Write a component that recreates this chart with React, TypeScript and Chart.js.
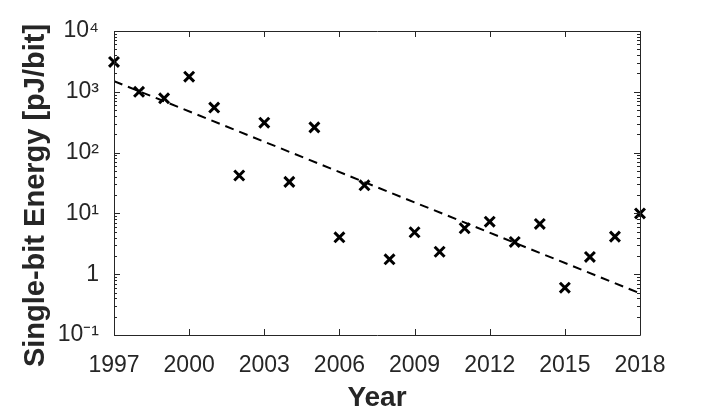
import React, { useEffect, useRef } from "react";
import { Chart, registerables } from "chart.js";

Chart.register(...registerables);

const years = [1997, 1998, 1999, 2000, 2001, 2002, 2003, 2004, 2005, 2006, 2007, 2008, 2009, 2010, 2011, 2012, 2013, 2014, 2015, 2016, 2017, 2018];
const energy = [3100, 1000, 780, 1770, 550, 42, 310, 33, 260, 4.05, 29, 1.76, 4.9, 2.34, 5.7, 7.3, 3.4, 6.7, 0.6, 1.92, 4.15, 10];
const trendYears = [1997, 2018];
const trendValues = [1500, 0.485];
const yTickValues = [0.1, 1, 10, 100, 1000, 10000];
const yTickLabels = ["10\u207B\u00B9", "1", "10\u00B9", "10\u00B2", "10\u00B3", "10\u2074"];
const xTickValues = [1997, 2000, 2003, 2006, 2009, 2012, 2015, 2018];
const xTitle = "Year";
const yTitle = "Single-bit Energy [pJ/bit]";

const AXIS_COLOR = "#262626";
const FONT = "'Liberation Sans', Arial, Helvetica, sans-serif";

const boxPlugin = {
  id: "matlabBox",
  afterDatasetsDraw(chart: any) {
    const { ctx, chartArea } = chart;
    const { left, right, top, bottom } = chartArea;
    const xs = chart.scales.x;
    const ys = chart.scales.y;
    ctx.save();
    ctx.strokeStyle = AXIS_COLOR;
    ctx.lineWidth = 1;
    ctx.beginPath();
    ctx.rect(Math.round(left) + 0.5, Math.round(top) + 0.5, Math.round(right - left), Math.round(bottom - top));
    ctx.stroke();
    ctx.beginPath();
    xTickValues.forEach((v) => {
      const px = Math.round(xs.getPixelForValue(v)) + 0.5;
      ctx.moveTo(px, bottom);
      ctx.lineTo(px, bottom - 6);
      ctx.moveTo(px, top);
      ctx.lineTo(px, top + 6);
    });
    yTickValues.forEach((v) => {
      const py = Math.round(ys.getPixelForValue(v)) + 0.5;
      ctx.moveTo(left, py);
      ctx.lineTo(left + 6, py);
      ctx.moveTo(right, py);
      ctx.lineTo(right - 6, py);
    });
    for (let d = -1; d <= 3; d++) {
      for (let k = 2; k <= 9; k++) {
        const v = k * Math.pow(10, d);
        const py = Math.round(ys.getPixelForValue(v)) + 0.5;
        ctx.moveTo(left, py);
        ctx.lineTo(left + 3, py);
        ctx.moveTo(right, py);
        ctx.lineTo(right - 3, py);
      }
    }
    ctx.stroke();

    // y-axis title (placed slightly below the plot centre, as in the reference)
    const cy = (top + bottom) / 2 + 12.5;
    ctx.translate(36, cy);
    ctx.rotate(-Math.PI / 2);
    ctx.fillStyle = AXIS_COLOR;
    ctx.font = `bold 29px ${FONT}`;
    ctx.textAlign = "center";
    ctx.textBaseline = "middle";
    ctx.fillText(yTitle, 0, 0);
    ctx.restore();
  },
};

export default function App() {
  const ref = useRef<HTMLCanvasElement | null>(null);

  useEffect(() => {
    if (!ref.current) return;
    const chart = new Chart(ref.current, {
      type: "scatter",
      data: {
        datasets: [
          {
            label: "Single-bit Energy",
            data: years.map((y, i) => ({ x: y, y: energy[i] })),
            pointStyle: "crossRot",
            pointRadius: 7,
            pointHoverRadius: 7,
            borderColor: "#000000",
            backgroundColor: "#000000",
            pointBorderWidth: 3,
            borderWidth: 3,
            showLine: false,
            clip: false,
          },
          {
            label: "Trend",
            data: trendYears.map((y, i) => ({ x: y, y: trendValues[i] })),
            showLine: true,
            borderColor: "#000000",
            borderWidth: 2,
            borderDash: [9, 6],
            pointRadius: 0,
            fill: false,
          },
        ],
      },
      options: {
        animation: false,
        responsive: true,
        maintainAspectRatio: false,
        layout: { padding: { top: 31, right: 67, left: 0, bottom: 0 } },
        plugins: {
          legend: { display: false },
          tooltip: { enabled: false },
        },
        scales: {
          x: {
            type: "linear",
            min: 1997,
            max: 2018,
            afterBuildTicks: (scale: any) => {
              scale.ticks = xTickValues.map((v) => ({ value: v }));
            },
            ticks: {
              color: AXIS_COLOR,
              font: { family: FONT, size: 23 },
              padding: 9,
              maxRotation: 0,
              autoSkip: false,
              callback: (v: any) => String(v),
            },
            grid: { display: false },
            border: { display: false },
            title: {
              display: true,
              text: xTitle,
              color: AXIS_COLOR,
              font: { family: FONT, size: 28, weight: "bold" },
              padding: { top: 0, bottom: -2 },
            },
            afterFit: (scale: any) => {
              scale.height = 78;
            },
          },
          y: {
            type: "logarithmic",
            min: 0.1,
            max: 10000,
            afterBuildTicks: (scale: any) => {
              scale.ticks = yTickValues.map((v) => ({ value: v, major: true }));
            },
            ticks: {
              color: AXIS_COLOR,
              font: { family: FONT, size: 23 },
              padding: 7,
              autoSkip: false,
              callback: (v: any) => {
                const i = yTickValues.findIndex((t) => Math.abs(Math.log10(t) - Math.log10(Number(v))) < 1e-6);
                return i >= 0 ? yTickLabels[i] : "";
              },
            },
            grid: { display: false },
            border: { display: false },
            title: { display: false },
            afterFit: (scale: any) => {
              scale.width = 114;
            },
          },
        },
      },
      plugins: [boxPlugin],
    });
    return () => chart.destroy();
  }, []);

  return (
    <div style={{ position: "absolute", left: 0, top: 0, width: 707, height: 413, background: "#fff" }}>
      <canvas ref={ref} />
    </div>
  );
}
